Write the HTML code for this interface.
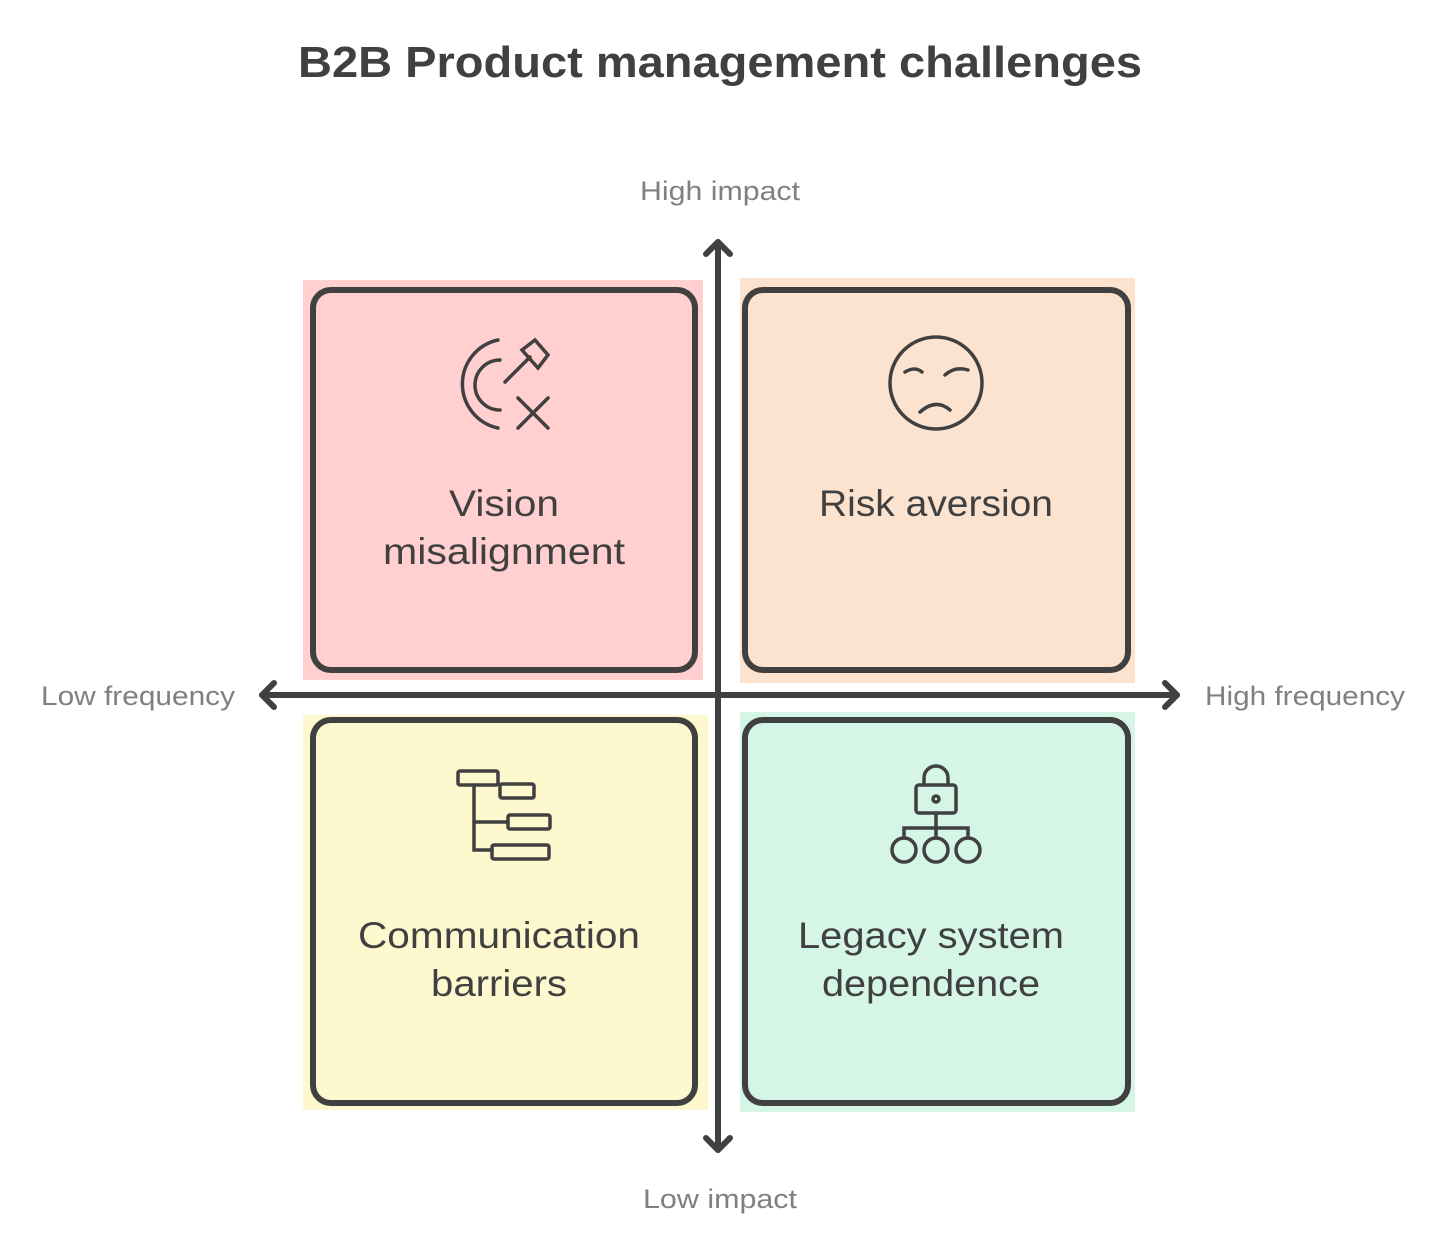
<!DOCTYPE html>
<html><head><meta charset="utf-8"><style>
body{margin:0;width:1440px;height:1248px;background:#fff;overflow:hidden;font-family:"Liberation Sans",sans-serif}
</style></head><body>
<svg width="1440" height="1248" xmlns="http://www.w3.org/2000/svg" font-family="Liberation Sans, sans-serif">
<text x="720" y="77" text-anchor="middle" font-size="44" font-weight="bold" fill="#404040" textLength="844" lengthAdjust="spacingAndGlyphs">B2B Product management challenges</text>
<g fill="#808080" font-size="27">
<text x="720" y="200" text-anchor="middle" textLength="160" lengthAdjust="spacingAndGlyphs">High impact</text>
<text x="720" y="1208" text-anchor="middle" textLength="154" lengthAdjust="spacingAndGlyphs">Low impact</text>
<text x="138" y="705" text-anchor="middle" textLength="194" lengthAdjust="spacingAndGlyphs">Low frequency</text>
<text x="1305" y="705" text-anchor="middle" textLength="200" lengthAdjust="spacingAndGlyphs">High frequency</text>
</g>
<rect x="303" y="280" width="400" height="400" fill="#ffd0cf"/>
<rect x="740" y="278" width="395" height="405" fill="#fbe3cf"/>
<rect x="303" y="715" width="405" height="395" fill="#fef8cf"/>
<rect x="740" y="712" width="395" height="400" fill="#d5f5e6"/>
<g fill="none" stroke="#404040" stroke-width="6">
<rect x="313" y="290" width="382" height="380" rx="18"/>
<rect x="745" y="290" width="383" height="380" rx="18"/>
<rect x="313" y="720" width="382" height="383" rx="18"/>
<rect x="745" y="720" width="383" height="383" rx="18"/>
</g>
<g stroke="#404040" stroke-width="6" stroke-linecap="round" stroke-linejoin="round" fill="none">
<line x1="718" y1="242" x2="718" y2="1150"/>
<polyline points="706,254 718,242 730,254"/>
<polyline points="706,1138 718,1150 730,1138"/>
<line x1="262" y1="695" x2="1177" y2="695"/>
<polyline points="274,683 262,695 274,707"/>
<polyline points="1165,683 1177,695 1165,707"/>
</g>
<g fill="#404040" font-size="37" text-anchor="middle" lengthAdjust="spacingAndGlyphs">
<text x="504" y="516" textLength="110" lengthAdjust="spacingAndGlyphs">Vision</text><text x="504" y="564" textLength="242" lengthAdjust="spacingAndGlyphs">misalignment</text>
<text x="936" y="516" textLength="234" lengthAdjust="spacingAndGlyphs">Risk aversion</text>
<text x="499" y="948" textLength="282" lengthAdjust="spacingAndGlyphs">Communication</text><text x="499" y="996" textLength="136" lengthAdjust="spacingAndGlyphs">barriers</text>
<text x="931" y="948" textLength="266" lengthAdjust="spacingAndGlyphs">Legacy system</text><text x="931" y="996" textLength="218" lengthAdjust="spacingAndGlyphs">dependence</text>
</g>
<g stroke="#404040" stroke-width="3.5" fill="none" stroke-linecap="round">
<path d="M498 340 A45 45 0 0 0 498 428"/>
<path d="M500 360 A25 25 0 0 0 500 410"/>
<line x1="505" y1="382" x2="530" y2="357"/>
<path d="M522 350 L535 340 L548 355 L538 368 Z"/>
<line x1="518" y1="398" x2="548" y2="428"/><line x1="548" y1="398" x2="518" y2="428"/>
<circle cx="936" cy="383" r="46"/>
<path d="M920 412 Q936 398 950 410"/>
<path d="M905 372 Q915 366 922 372"/><path d="M945 375 Q955 366 968 370"/>
<rect x="458" y="771" width="40" height="14" rx="2"/>
<rect x="500" y="784" width="34" height="14" rx="2"/>
<rect x="508" y="815" width="42" height="14" rx="2"/>
<rect x="492" y="845" width="57" height="14" rx="2"/>
<path d="M474 785 V850 H492 M474 822 H508"/>
<rect x="916" y="785" width="40" height="28" rx="3"/>
<path d="M924 785 V778 A12 12 0 0 1 948 778 V785"/>
<circle cx="936" cy="799" r="3"/>
<path d="M936 813 V828 M904 838 V828 H968 V838 M936 828 V838"/>
<circle cx="904" cy="850" r="12"/><circle cx="936" cy="850" r="12"/><circle cx="968" cy="850" r="12"/>
</g>
</svg>
</body></html>
